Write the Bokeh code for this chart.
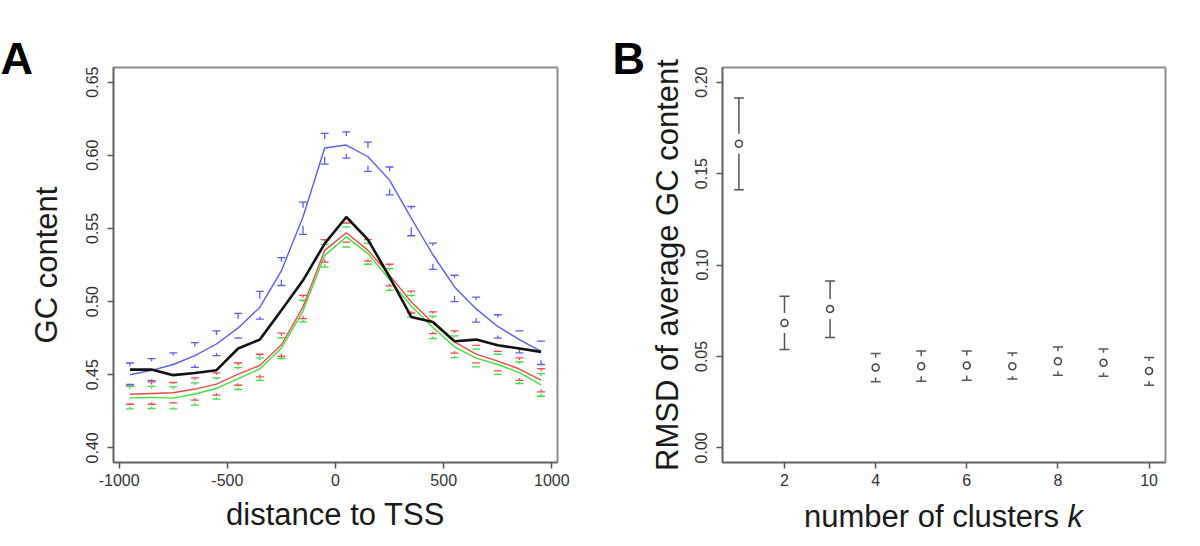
import numpy as np
from bokeh.plotting import figure
from bokeh.layouts import row, column
from bokeh.models import FixedTicker, Range1d, PrintfTickFormatter, Div
from bokeh.embed import file_html
from bokeh.resources import INLINE

# ---------------- Panel A data ----------------
positions = [-950, -850, -750, -650, -550, -450, -350, -250, -150, -50,
             50, 150, 250, 350, 450, 550, 650, 750, 850, 950]

blue_mean = [0.450, 0.453, 0.457, 0.463, 0.471, 0.482, 0.496, 0.521, 0.558, 0.605,
             0.607, 0.599, 0.583, 0.557, 0.532, 0.510, 0.495, 0.483, 0.474, 0.466]
blue_hi = [0.458, 0.461, 0.465, 0.472, 0.480, 0.492, 0.507, 0.530, 0.568, 0.615,
           0.616, 0.609, 0.592, 0.565, 0.540, 0.518, 0.503, 0.491, 0.480, 0.473]
blue_lo = [0.443, 0.446, 0.450, 0.455, 0.463, 0.475, 0.488, 0.511, 0.546, 0.594,
           0.598, 0.589, 0.573, 0.545, 0.522, 0.500, 0.486, 0.475, 0.465, 0.457]

black_mean = [0.4535, 0.4535, 0.4497, 0.4512, 0.4531, 0.4679, 0.4740, 0.4940, 0.5145, 0.5396,
              0.5578, 0.5423, 0.5168, 0.4895, 0.4860, 0.4729, 0.4740, 0.4702, 0.4679, 0.4656]

red_mean = [0.4367, 0.4372, 0.4377, 0.4402, 0.4436, 0.4504, 0.4563, 0.4705, 0.4964, 0.5350,
            0.5470, 0.5350, 0.5181, 0.4997, 0.4855, 0.4724, 0.4641, 0.4593, 0.4539, 0.4463]
red_hi = [0.4433, 0.4451, 0.4447, 0.4478, 0.4512, 0.4580, 0.4640, 0.4785, 0.5043, 0.5423,
          0.5537, 0.5423, 0.5255, 0.5072, 0.4929, 0.4800, 0.4701, 0.4660, 0.4615, 0.4542]
red_lo = [0.4298, 0.4298, 0.4307, 0.4326, 0.4360, 0.4428, 0.4485, 0.4626, 0.4884, 0.5270,
          0.5407, 0.5277, 0.5107, 0.4922, 0.4781, 0.4648, 0.4581, 0.4526, 0.4462, 0.4383]

green_mean = [0.4342, 0.4345, 0.4340, 0.4368, 0.4406, 0.4474, 0.4539, 0.4683, 0.4935, 0.5316,
              0.5442, 0.5328, 0.5151, 0.4969, 0.4823, 0.4691, 0.4613, 0.4570, 0.4514, 0.4430]
green_hi = [0.4421, 0.4421, 0.4417, 0.4444, 0.4478, 0.4549, 0.4615, 0.4754, 0.5009, 0.5391,
            0.5510, 0.5400, 0.5225, 0.5043, 0.4900, 0.4765, 0.4675, 0.4640, 0.4587, 0.4508]
green_lo = [0.4266, 0.4269, 0.4266, 0.4292, 0.4333, 0.4399, 0.4462, 0.4611, 0.4861, 0.5236,
            0.5373, 0.5255, 0.5077, 0.4895, 0.4747, 0.4617, 0.4553, 0.4503, 0.4440, 0.4353]

a_xticks = [-1000, -500, 0, 500, 1000]
a_yticks = [0.40, 0.45, 0.50, 0.55, 0.60, 0.65]

# ---------------- Panel B data ----------------
clusters = [1, 2, 3, 4, 5, 6, 7, 8, 9, 10]
rmsd_mean = [0.1663, 0.0683, 0.0760, 0.0439, 0.0446, 0.0450, 0.0446, 0.0474, 0.0465, 0.0421]
rmsd_hi = [0.1913, 0.0829, 0.0913, 0.0516, 0.0530, 0.0530, 0.0519, 0.0552, 0.0541, 0.0494]
rmsd_lo = [0.1412, 0.0538, 0.0603, 0.0361, 0.0364, 0.0370, 0.0377, 0.0397, 0.0392, 0.0343]

b_xticks = [2, 4, 6, 8, 10]
b_yticks = [0.00, 0.05, 0.10, 0.15, 0.20]

FONT = "Liberation Sans"
FRAME_H = 395
TITLE_SIZE = "31px"


def style(p, ylabel, ylab_standoff):
    p.outline_line_color = "#8c8c8c"
    p.outline_line_width = 2
    p.grid.visible = False
    p.background_fill_color = "white"
    p.border_fill_color = "white"
    for ax in (p.xaxis[0], p.yaxis[0]):
        ax.axis_line_color = "#666666"
        ax.axis_line_width = 1.5
        ax.major_tick_line_color = "#555555"
        ax.major_tick_line_width = 1.5
        ax.major_tick_out = 6
        ax.major_tick_in = 0
        ax.minor_tick_line_color = None
        ax.major_label_text_font = FONT
        ax.major_label_text_font_size = "16px"
        ax.major_label_text_color = "#333333"
        ax.axis_label_text_font = FONT
        ax.axis_label_text_font_size = TITLE_SIZE
        ax.axis_label_text_font_style = "normal"
        ax.axis_label_text_color = "#1a1a1a"
    p.xaxis.major_label_standoff = 5
    p.yaxis.major_label_standoff = 9
    p.yaxis.major_label_orientation = "vertical"
    p.yaxis.axis_label = ylabel
    p.yaxis.axis_label_standoff = ylab_standoff


def panel_letter(p, letter, offset):
    p.title.text = letter
    p.title.align = "left"
    p.title.offset = offset
    p.title.standoff = -32
    p.title.text_font = FONT
    p.title.text_font_size = "45px"
    p.title.text_font_style = "bold"
    p.title.text_color = "#000000"


def errbars(p, x, mean, hi, lo, color, gap, cap, width):
    mean = np.asarray(mean)
    hi = np.asarray(hi)
    lo = np.asarray(lo)
    up_end = np.minimum(hi, mean + gap)
    lo_end = np.maximum(lo, mean - gap)
    p.segment(x0=x, y0=hi, x1=x, y1=up_end, line_color=color, line_width=width)
    p.segment(x0=x, y0=lo, x1=x, y1=lo_end, line_color=color, line_width=width)
    p.scatter(x=x, y=hi, marker="dash", size=cap, line_color=color, line_width=width)
    p.scatter(x=x, y=lo, marker="dash", size=cap, line_color=color, line_width=width)


# ---------------- Panel A ----------------
a_yr = (0.39, 0.66)
pA = figure(width=600, height=544,
            x_range=Range1d(-1026, 1026), y_range=Range1d(*a_yr),
            output_backend="svg", toolbar_location=None,
            min_border_left=113, min_border_right=43,
            min_border_top=67, min_border_bottom=82)
style(pA, "GC content", 20)
pA.xaxis.axis_label = "distance to TSS"
pA.xaxis.axis_label_standoff = 8
pA.xaxis.ticker = FixedTicker(ticks=a_xticks)
pA.yaxis.ticker = FixedTicker(ticks=a_yticks)
pA.xaxis.formatter = PrintfTickFormatter(format="%d")
pA.yaxis.formatter = PrintfTickFormatter(format="%.2f")
panel_letter(pA, "A", -113)

gapA = 9 * (a_yr[1] - a_yr[0]) / FRAME_H

BLUE = "#5c5cf4"
RED = "#f24a4a"
GREEN = "#3fe03f"

for mean, hi, lo, col in ((green_mean, green_hi, green_lo, GREEN),
                          (red_mean, red_hi, red_lo, RED),
                          (blue_mean, blue_hi, blue_lo, BLUE)):
    pA.line(positions, mean, line_color=col, line_width=1.4)
    errbars(pA, positions, mean, hi, lo, col, gapA, 8, 1.3)

pA.line(positions, black_mean, line_color="#111111", line_width=2.6)

# ---------------- Panel B ----------------
b_yr = (-0.008, 0.208)
pB = figure(width=598, height=500,
            x_range=Range1d(0.64, 10.36), y_range=Range1d(*b_yr),
            output_backend="svg", toolbar_location=None,
            min_border_left=122, min_border_right=33,
            min_border_top=67, min_border_bottom=38)
style(pB, "RMSD of average GC content", 8)
pB.xaxis.ticker = FixedTicker(ticks=b_xticks)
pB.yaxis.ticker = FixedTicker(ticks=b_yticks)
pB.xaxis.formatter = PrintfTickFormatter(format="%d")
pB.yaxis.formatter = PrintfTickFormatter(format="%.2f")
panel_letter(pB, "B", -110)

gapB = 10 * (b_yr[1] - b_yr[0]) / FRAME_H
errbars(pB, clusters, rmsd_mean, rmsd_hi, rmsd_lo, "#555555", gapB, 10, 1.5)
pB.scatter(x=clusters, y=rmsd_mean, marker="circle", size=7,
           fill_color="white", line_color="#444444", line_width=1.5)

xtitleB = Div(text="number of clusters <i>k</i>", width=443, height=40,
              margin=(0, 0, 0, 122),
              styles={"text-align": "center", "font-family": FONT,
                      "font-size": TITLE_SIZE, "color": "#1a1a1a",
                      "line-height": "34px"})

layout = row(pA, column(pB, xtitleB))
open("out.html", "w").write(file_html(layout, INLINE))
